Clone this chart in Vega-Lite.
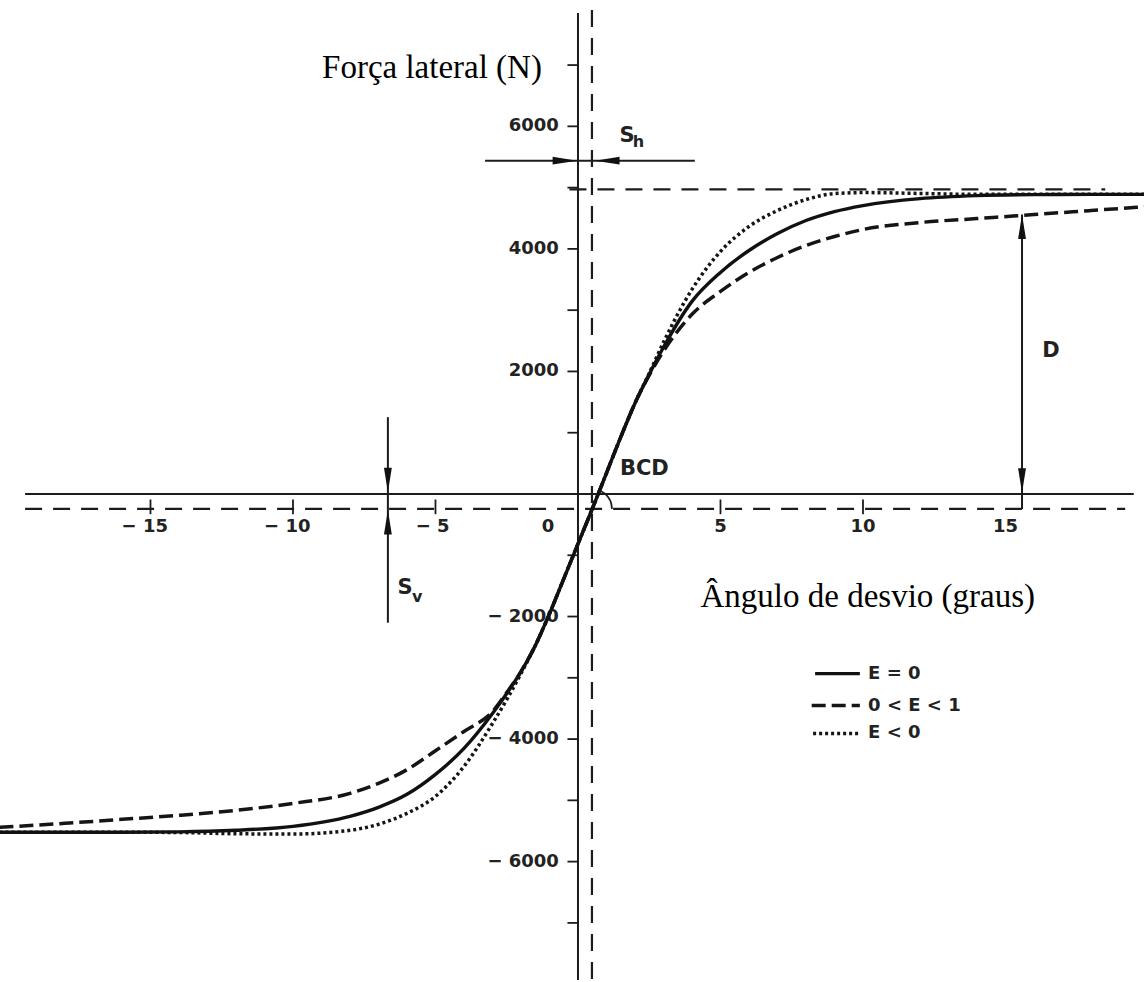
{
  "$schema": "https://vega.github.io/schema/vega-lite/v6.json",
  "width": 1144,
  "height": 982,
  "autosize": {"type": "fit", "contains": "padding"},
  "padding": 0,
  "background": "#ffffff",
  "config": {"view": {"stroke": null}},
  "datasets": {
    "curves": [
      {"E": "E = 0", "trace": "curve", "x": -20.3, "y": -5520},
      {"E": "E = 0", "trace": "curve", "x": -18, "y": -5520},
      {"E": "E = 0", "trace": "curve", "x": -16, "y": -5520},
      {"E": "E = 0", "trace": "curve", "x": -14, "y": -5515},
      {"E": "E = 0", "trace": "curve", "x": -12, "y": -5489},
      {"E": "E = 0", "trace": "curve", "x": -10, "y": -5424},
      {"E": "E = 0", "trace": "curve", "x": -8, "y": -5261},
      {"E": "E = 0", "trace": "curve", "x": -7, "y": -5114},
      {"E": "E = 0", "trace": "curve", "x": -6, "y": -4902},
      {"E": "E = 0", "trace": "curve", "x": -5, "y": -4577},
      {"E": "E = 0", "trace": "curve", "x": -4, "y": -4153},
      {"E": "E = 0", "trace": "curve", "x": -3, "y": -3583},
      {"E": "E = 0", "trace": "curve", "x": -2.5, "y": -3257},
      {"E": "E = 0", "trace": "curve", "x": -2, "y": -2899},
      {"E": "E = 0", "trace": "curve", "x": -1.5, "y": -2476},
      {"E": "E = 0", "trace": "curve", "x": -1, "y": -1954},
      {"E": "E = 0", "trace": "curve", "x": -0.5, "y": -1384},
      {"E": "E = 0", "trace": "curve", "x": 0, "y": -814},
      {"E": "E = 0", "trace": "curve", "x": 0.5, "y": -244},
      {"E": "E = 0", "trace": "curve", "x": 1, "y": 342},
      {"E": "E = 0", "trace": "curve", "x": 1.5, "y": 928},
      {"E": "E = 0", "trace": "curve", "x": 2, "y": 1482},
      {"E": "E = 0", "trace": "curve", "x": 2.5, "y": 1954},
      {"E": "E = 0", "trace": "curve", "x": 3, "y": 2394},
      {"E": "E = 0", "trace": "curve", "x": 4, "y": 3143},
      {"E": "E = 0", "trace": "curve", "x": 5, "y": 3616},
      {"E": "E = 0", "trace": "curve", "x": 6, "y": 3974},
      {"E": "E = 0", "trace": "curve", "x": 7, "y": 4251},
      {"E": "E = 0", "trace": "curve", "x": 8, "y": 4463},
      {"E": "E = 0", "trace": "curve", "x": 9, "y": 4609},
      {"E": "E = 0", "trace": "curve", "x": 10, "y": 4707},
      {"E": "E = 0", "trace": "curve", "x": 12, "y": 4821},
      {"E": "E = 0", "trace": "curve", "x": 14, "y": 4870},
      {"E": "E = 0", "trace": "curve", "x": 16, "y": 4886},
      {"E": "E = 0", "trace": "curve", "x": 18, "y": 4890},
      {"E": "E = 0", "trace": "curve", "x": 20, "y": 4890},
      {"E": "E = 0", "trace": "key", "x": 8.32, "y": -2932},
      {"E": "E = 0", "trace": "key", "x": 9.89, "y": -2932},

      {"E": "0 < E < 1", "trace": "curve", "x": -20.3, "y": -5440},
      {"E": "0 < E < 1", "trace": "curve", "x": -18, "y": -5375},
      {"E": "0 < E < 1", "trace": "curve", "x": -16, "y": -5310},
      {"E": "0 < E < 1", "trace": "curve", "x": -14, "y": -5244},
      {"E": "0 < E < 1", "trace": "curve", "x": -12, "y": -5163},
      {"E": "0 < E < 1", "trace": "curve", "x": -10, "y": -5050},
      {"E": "0 < E < 1", "trace": "curve", "x": -8, "y": -4886},
      {"E": "0 < E < 1", "trace": "curve", "x": -7, "y": -4723},
      {"E": "0 < E < 1", "trace": "curve", "x": -6, "y": -4500},
      {"E": "0 < E < 1", "trace": "curve", "x": -5, "y": -4190},
      {"E": "0 < E < 1", "trace": "curve", "x": -4, "y": -3876},
      {"E": "0 < E < 1", "trace": "curve", "x": -3, "y": -3551},
      {"E": "0 < E < 1", "trace": "curve", "x": -2.5, "y": -3240},
      {"E": "0 < E < 1", "trace": "curve", "x": -2, "y": -2899},
      {"E": "0 < E < 1", "trace": "curve", "x": -1.5, "y": -2476},
      {"E": "0 < E < 1", "trace": "curve", "x": -1, "y": -1954},
      {"E": "0 < E < 1", "trace": "curve", "x": -0.5, "y": -1384},
      {"E": "0 < E < 1", "trace": "curve", "x": 0, "y": -814},
      {"E": "0 < E < 1", "trace": "curve", "x": 0.5, "y": -244},
      {"E": "0 < E < 1", "trace": "curve", "x": 1, "y": 342},
      {"E": "0 < E < 1", "trace": "curve", "x": 1.5, "y": 928},
      {"E": "0 < E < 1", "trace": "curve", "x": 2, "y": 1482},
      {"E": "0 < E < 1", "trace": "curve", "x": 2.5, "y": 1940},
      {"E": "0 < E < 1", "trace": "curve", "x": 3, "y": 2329},
      {"E": "0 < E < 1", "trace": "curve", "x": 4, "y": 2932},
      {"E": "0 < E < 1", "trace": "curve", "x": 5, "y": 3306},
      {"E": "0 < E < 1", "trace": "curve", "x": 6, "y": 3616},
      {"E": "0 < E < 1", "trace": "curve", "x": 7, "y": 3860},
      {"E": "0 < E < 1", "trace": "curve", "x": 8, "y": 4055},
      {"E": "0 < E < 1", "trace": "curve", "x": 9, "y": 4202},
      {"E": "0 < E < 1", "trace": "curve", "x": 10, "y": 4316},
      {"E": "0 < E < 1", "trace": "curve", "x": 12, "y": 4430},
      {"E": "0 < E < 1", "trace": "curve", "x": 14, "y": 4495},
      {"E": "0 < E < 1", "trace": "curve", "x": 16, "y": 4560},
      {"E": "0 < E < 1", "trace": "curve", "x": 18, "y": 4626},
      {"E": "0 < E < 1", "trace": "curve", "x": 20, "y": 4691},
      {"E": "0 < E < 1", "trace": "key", "x": 8.2, "y": -3453},
      {"E": "0 < E < 1", "trace": "key", "x": 9.89, "y": -3453},

      {"E": "E < 0", "trace": "curve", "x": -20.3, "y": -5520},
      {"E": "E < 0", "trace": "curve", "x": -16, "y": -5520},
      {"E": "E < 0", "trace": "curve", "x": -14, "y": -5525},
      {"E": "E < 0", "trace": "curve", "x": -12, "y": -5545},
      {"E": "E < 0", "trace": "curve", "x": -10, "y": -5550},
      {"E": "E < 0", "trace": "curve", "x": -8, "y": -5489},
      {"E": "E < 0", "trace": "curve", "x": -7, "y": -5391},
      {"E": "E < 0", "trace": "curve", "x": -6, "y": -5212},
      {"E": "E < 0", "trace": "curve", "x": -5, "y": -4935},
      {"E": "E < 0", "trace": "curve", "x": -4, "y": -4446},
      {"E": "E < 0", "trace": "curve", "x": -3, "y": -3746},
      {"E": "E < 0", "trace": "curve", "x": -2.5, "y": -3355},
      {"E": "E < 0", "trace": "curve", "x": -2, "y": -2930},
      {"E": "E < 0", "trace": "curve", "x": -1.5, "y": -2476},
      {"E": "E < 0", "trace": "curve", "x": -1, "y": -1954},
      {"E": "E < 0", "trace": "curve", "x": -0.5, "y": -1384},
      {"E": "E < 0", "trace": "curve", "x": 0, "y": -814},
      {"E": "E < 0", "trace": "curve", "x": 0.5, "y": -244},
      {"E": "E < 0", "trace": "curve", "x": 1, "y": 342},
      {"E": "E < 0", "trace": "curve", "x": 1.5, "y": 928},
      {"E": "E < 0", "trace": "curve", "x": 2, "y": 1482},
      {"E": "E < 0", "trace": "curve", "x": 2.5, "y": 1970},
      {"E": "E < 0", "trace": "curve", "x": 3, "y": 2476},
      {"E": "E < 0", "trace": "curve", "x": 4, "y": 3339},
      {"E": "E < 0", "trace": "curve", "x": 5, "y": 3958},
      {"E": "E < 0", "trace": "curve", "x": 6, "y": 4365},
      {"E": "E < 0", "trace": "curve", "x": 7, "y": 4626},
      {"E": "E < 0", "trace": "curve", "x": 8, "y": 4805},
      {"E": "E < 0", "trace": "curve", "x": 9, "y": 4902},
      {"E": "E < 0", "trace": "curve", "x": 10, "y": 4919},
      {"E": "E < 0", "trace": "curve", "x": 12, "y": 4905},
      {"E": "E < 0", "trace": "curve", "x": 14, "y": 4890},
      {"E": "E < 0", "trace": "curve", "x": 16, "y": 4890},
      {"E": "E < 0", "trace": "curve", "x": 20, "y": 4890},
      {"E": "E < 0", "trace": "key", "x": 8.25, "y": -3909},
      {"E": "E < 0", "trace": "key", "x": 9.89, "y": -3909}
    ],
    "lines": [
      {"part": "axis", "x": 0, "y": 7850, "x2": 0, "y2": -7932},
      {"part": "axis", "x": -19.4, "y": 0, "x2": 19.5, "y2": 0},
      {"part": "axis", "x": -3.26, "y": 5440, "x2": 4.1, "y2": 5440},
      {"part": "axis", "x": -6.67, "y": 1254, "x2": -6.67, "y2": -2101},
      {"part": "axis", "x": 15.58, "y": 4560, "x2": 15.58, "y2": -244},
      {"part": "guide", "x": 0.49, "y": 7900, "x2": 0.49, "y2": -7932},
      {"part": "guide", "x": -19.4, "y": -244, "x2": 19.2, "y2": -244},
      {"part": "guide", "x": -0.3, "y": 4970, "x2": 18.5, "y2": 4970},
      {"part": "tick", "x": -0.37, "y": 7000, "x2": 0, "y2": 7000},
      {"part": "tick", "x": -0.37, "y": 6000, "x2": 0, "y2": 6000},
      {"part": "tick", "x": -0.37, "y": 5000, "x2": 0, "y2": 5000},
      {"part": "tick", "x": -0.37, "y": 4000, "x2": 0, "y2": 4000},
      {"part": "tick", "x": -0.37, "y": 3000, "x2": 0, "y2": 3000},
      {"part": "tick", "x": -0.37, "y": 2000, "x2": 0, "y2": 2000},
      {"part": "tick", "x": -0.37, "y": 1000, "x2": 0, "y2": 1000},
      {"part": "tick", "x": -0.37, "y": -1000, "x2": 0, "y2": -1000},
      {"part": "tick", "x": -0.37, "y": -2000, "x2": 0, "y2": -2000},
      {"part": "tick", "x": -0.37, "y": -3000, "x2": 0, "y2": -3000},
      {"part": "tick", "x": -0.37, "y": -4000, "x2": 0, "y2": -4000},
      {"part": "tick", "x": -0.37, "y": -5000, "x2": 0, "y2": -5000},
      {"part": "tick", "x": -0.37, "y": -6000, "x2": 0, "y2": -6000},
      {"part": "tick", "x": -0.37, "y": -7000, "x2": 0, "y2": -7000},
      {"part": "tick", "x": -15, "y": -90, "x2": -15, "y2": -330},
      {"part": "tick", "x": -10, "y": -90, "x2": -10, "y2": -330},
      {"part": "tick", "x": -5, "y": -90, "x2": -5, "y2": -330},
      {"part": "tick", "x": 5, "y": -90, "x2": 5, "y2": -330},
      {"part": "tick", "x": 10, "y": -90, "x2": 10, "y2": -330}
    ],
    "heads": [
      {"dir": "right", "x": -0.03, "y": 5440},
      {"dir": "left", "x": 0.6, "y": 5440},
      {"dir": "down", "x": -6.67, "y": 30},
      {"dir": "up", "x": -6.67, "y": -260},
      {"dir": "up", "x": 15.58, "y": 4560},
      {"dir": "down", "x": 15.58, "y": 20}
    ],
    "labels": [
      {"group": "serif", "label": "Força lateral (N)", "x": -8.98, "y": 6790},
      {"group": "serif", "label": "Ângulo de desvio (graus)", "x": 4.3, "y": -1840},
      {"group": "ylab", "label": "6000", "x": -0.67, "y": 6000},
      {"group": "ylab", "label": "4000", "x": -0.67, "y": 4000},
      {"group": "ylab", "label": "2000", "x": -0.67, "y": 2000},
      {"group": "ylab", "label": "− 2000", "x": -0.67, "y": -2000},
      {"group": "ylab", "label": "− 4000", "x": -0.67, "y": -4000},
      {"group": "ylab", "label": "− 6000", "x": -0.67, "y": -6000},
      {"group": "xlab", "label": "− 15", "x": -15.2, "y": -537},
      {"group": "xlab", "label": "− 10", "x": -10.2, "y": -537},
      {"group": "xlab", "label": "− 5", "x": -5.1, "y": -537},
      {"group": "xlab", "label": "0", "x": -1.05, "y": -537},
      {"group": "xlab", "label": "5", "x": 5, "y": -537},
      {"group": "xlab", "label": "10", "x": 10, "y": -537},
      {"group": "xlab", "label": "15", "x": 15, "y": -537},
      {"group": "bcd", "label": "BCD", "x": 1.47, "y": 407},
      {"group": "sym", "label": "D", "x": 16.6, "y": 2329},
      {"group": "sym", "label": "S", "x": 1.72, "y": 5847},
      {"group": "sym", "label": "S", "x": -6.07, "y": -1531},
      {"group": "sub", "label": "h", "x": 2.12, "y": 5749},
      {"group": "sub", "label": "v", "x": -5.64, "y": -1678},
      {"group": "key", "label": "E = 0", "x": 10.18, "y": -2932},
      {"group": "key", "label": "0 < E < 1", "x": 10.18, "y": -3453},
      {"group": "key", "label": "E < 0", "x": 10.18, "y": -3909}
    ],
    "arc": [
      {"x": 0.754, "y": 57},
      {"x": 0.944, "y": 5},
      {"x": 1.098, "y": -81},
      {"x": 1.168, "y": -160},
      {"x": 1.193, "y": -244}
    ]
  },
  "encoding": {
    "x": {"field": "x", "type": "quantitative", "scale": {"domain": [-20.28, 19.86], "nice": false, "zero": false}, "axis": null},
    "y": {"field": "y", "type": "quantitative", "scale": {"domain": [-7932, 8062], "nice": false, "zero": false}, "axis": null}
  },
  "layer": [
    {
      "data": {"name": "lines"},
      "transform": [{"filter": "datum.part === 'guide'"}],
      "mark": {"type": "rule", "stroke": "#1c1c1c", "strokeWidth": 2.2, "strokeDash": [17, 11]},
      "encoding": {"x2": {"field": "x2"}, "y2": {"field": "y2"}}
    },
    {
      "data": {"name": "lines"},
      "transform": [{"filter": "datum.part === 'axis'"}],
      "mark": {"type": "rule", "stroke": "#1c1c1c", "strokeWidth": 2},
      "encoding": {"x2": {"field": "x2"}, "y2": {"field": "y2"}}
    },
    {
      "data": {"name": "lines"},
      "transform": [{"filter": "datum.part === 'tick'"}],
      "mark": {"type": "rule", "stroke": "#1c1c1c", "strokeWidth": 1.8},
      "encoding": {"x2": {"field": "x2"}, "y2": {"field": "y2"}}
    },
    {
      "data": {"name": "labels"},
      "transform": [{"filter": "datum.group === 'serif'"}],
      "mark": {"type": "text", "font": "Liberation Serif", "fontSize": 33, "align": "left", "baseline": "alphabetic", "fill": "#000000"},
      "encoding": {"text": {"field": "label"}}
    },
    {
      "data": {"name": "labels"},
      "transform": [{"filter": "datum.group === 'ylab'"}],
      "mark": {"type": "text", "font": "DejaVu Sans", "fontWeight": "bold", "fontSize": 18, "align": "right", "baseline": "middle", "fill": "#222222"},
      "encoding": {"text": {"field": "label"}}
    },
    {
      "data": {"name": "labels"},
      "transform": [{"filter": "datum.group === 'xlab'"}],
      "mark": {"type": "text", "font": "DejaVu Sans", "fontWeight": "bold", "fontSize": 18, "align": "center", "baseline": "middle", "fill": "#222222"},
      "encoding": {"text": {"field": "label"}}
    },
    {
      "data": {"name": "labels"},
      "transform": [{"filter": "datum.group === 'bcd'"}],
      "mark": {"type": "text", "font": "DejaVu Sans", "fontWeight": "bold", "fontSize": 21, "align": "left", "baseline": "middle", "fill": "#222222"},
      "encoding": {"text": {"field": "label"}}
    },
    {
      "data": {"name": "labels"},
      "transform": [{"filter": "datum.group === 'sym'"}],
      "mark": {"type": "text", "font": "DejaVu Sans", "fontWeight": "bold", "fontSize": 21, "align": "center", "baseline": "middle", "fill": "#222222"},
      "encoding": {"text": {"field": "label"}}
    },
    {
      "data": {"name": "labels"},
      "transform": [{"filter": "datum.group === 'sub'"}],
      "mark": {"type": "text", "font": "DejaVu Sans", "fontWeight": "bold", "fontSize": 16, "align": "center", "baseline": "middle", "fill": "#222222"},
      "encoding": {"text": {"field": "label"}}
    },
    {
      "data": {"name": "labels"},
      "transform": [{"filter": "datum.group === 'key'"}],
      "mark": {"type": "text", "font": "DejaVu Sans", "fontWeight": "bold", "fontSize": 18, "align": "left", "baseline": "middle", "fill": "#222222"},
      "encoding": {"text": {"field": "label"}}
    },
    {
      "data": {"name": "curves"},
      "transform": [{"filter": "datum.E === '0 < E < 1'"}],
      "mark": {"type": "line", "stroke": "#151515", "strokeWidth": 3.5, "strokeDash": [14, 6], "interpolate": "monotone", "clip": true},
      "encoding": {"detail": {"field": "trace"}}
    },
    {
      "data": {"name": "curves"},
      "transform": [{"filter": "datum.E === 'E < 0'"}],
      "mark": {"type": "line", "stroke": "#151515", "strokeWidth": 3.5, "strokeDash": [3, 3], "interpolate": "monotone", "clip": true},
      "encoding": {"detail": {"field": "trace"}}
    },
    {
      "data": {"name": "curves"},
      "transform": [{"filter": "datum.E === 'E = 0'"}],
      "mark": {"type": "line", "stroke": "#111111", "strokeWidth": 3.4, "interpolate": "monotone", "clip": true},
      "encoding": {"detail": {"field": "trace"}}
    },
    {
      "data": {"name": "arc"},
      "mark": {"type": "line", "stroke": "#1c1c1c", "strokeWidth": 1.8, "interpolate": "monotone"},
      "encoding": {}
    },
    {
      "data": {"name": "heads"},
      "transform": [{"filter": "datum.dir === 'right'"}],
      "mark": {"type": "point", "shape": "M0,0L-2,-0.32L-2,0.32Z", "size": 600, "filled": true, "fill": "#111111", "opacity": 1, "strokeWidth": 0, "angle": 0}
    },
    {
      "data": {"name": "heads"},
      "transform": [{"filter": "datum.dir === 'left'"}],
      "mark": {"type": "point", "shape": "M0,0L-2,-0.32L-2,0.32Z", "size": 600, "filled": true, "fill": "#111111", "opacity": 1, "strokeWidth": 0, "angle": 180}
    },
    {
      "data": {"name": "heads"},
      "transform": [{"filter": "datum.dir === 'down'"}],
      "mark": {"type": "point", "shape": "M0,0L-2,-0.32L-2,0.32Z", "size": 600, "filled": true, "fill": "#111111", "opacity": 1, "strokeWidth": 0, "angle": 90}
    },
    {
      "data": {"name": "heads"},
      "transform": [{"filter": "datum.dir === 'up'"}],
      "mark": {"type": "point", "shape": "M0,0L-2,-0.32L-2,0.32Z", "size": 600, "filled": true, "fill": "#111111", "opacity": 1, "strokeWidth": 0, "angle": 270}
    }
  ]
}
